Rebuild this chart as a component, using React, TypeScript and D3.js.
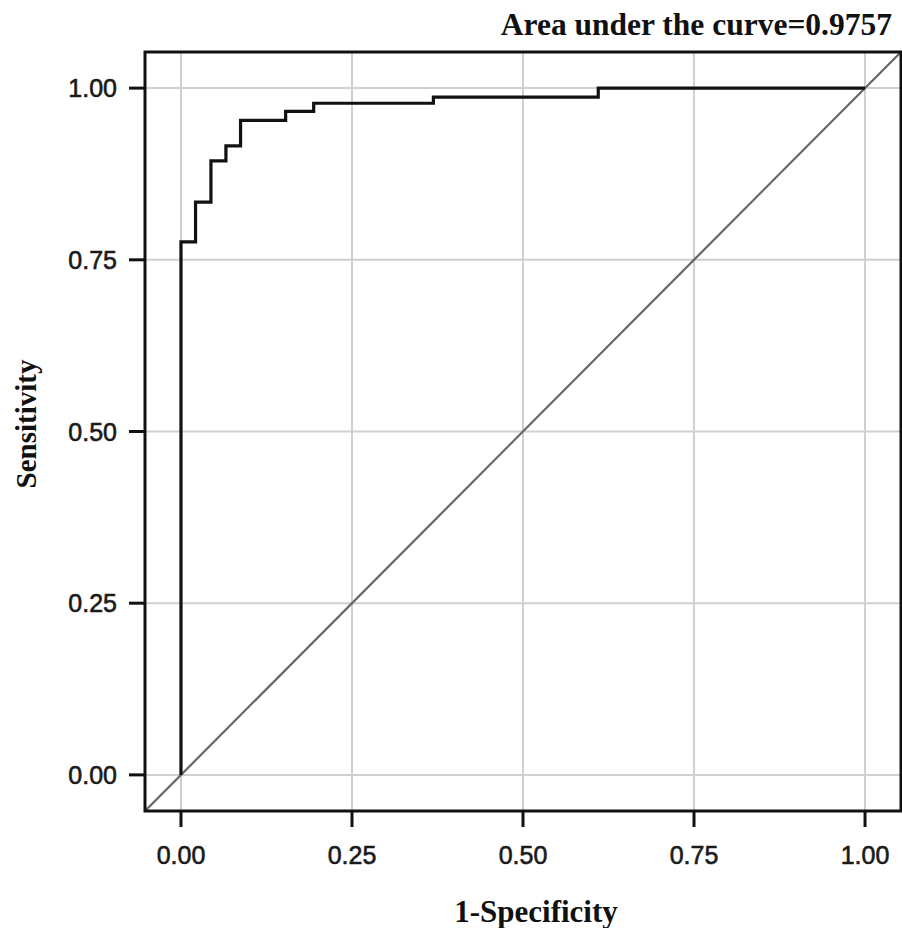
import React from "react";
import * as d3 from "d3";

const fpr = [0, 0, 0.0213, 0.0213, 0.0438, 0.0438, 0.0657, 0.0657, 0.0871, 0.0871, 0.153, 0.153, 0.194, 0.194, 0.369, 0.369, 0.61, 0.61, 1.0];
const tpr = [0, 0.776, 0.776, 0.834, 0.834, 0.894, 0.894, 0.916, 0.916, 0.953, 0.953, 0.966, 0.966, 0.978, 0.978, 0.987, 0.987, 1.0, 1.0];
const ticks = [0, 0.25, 0.5, 0.75, 1];
const tickLabels = ["0.00", "0.25", "0.50", "0.75", "1.00"];
const title = "Area under the curve=0.9757";
const xTitle = "1-Specificity";
const yTitle = "Sensitivity";

export default function App() {
  const W = 902, H = 928;
  const L = 145, R = 901, T = 52, B = 811;
  const pad = 0.0526;
  const x = d3.scaleLinear().domain([-pad, 1 + pad]).range([L, R]);
  const y = d3.scaleLinear().domain([-pad, 1 + pad]).range([B, T]);
  const pts: [number, number][] = fpr.map((f, i) => [f, tpr[i]]);
  const line = d3.line<[number, number]>().x(d => x(d[0])).y(d => y(d[1]));
  const sans = "'Liberation Sans', Arial, sans-serif";
  const serif = "'Liberation Serif', 'Times New Roman', serif";
  return (
    <svg width={W} height={H} style={{ position: "absolute", left: 0, top: 0, background: "#fff" }}>
      <rect x={0} y={0} width={W} height={H} fill="#fff" />
      {ticks.map(t => (
        <line key={"gx" + t} x1={x(t)} x2={x(t)} y1={T} y2={B} stroke="#d0d0d0" strokeWidth={2} />
      ))}
      {ticks.map(t => (
        <line key={"gy" + t} x1={L} x2={R} y1={y(t)} y2={y(t)} stroke="#d0d0d0" strokeWidth={2} />
      ))}
      <line x1={x(-pad)} y1={y(-pad)} x2={x(1 + pad)} y2={y(1 + pad)} stroke="#666" strokeWidth={2.2} />
      <path d={line(pts) || ""} fill="none" stroke="#111" strokeWidth={3.2} />
      <rect x={L} y={T} width={R - L} height={B - T} fill="none" stroke="#111" strokeWidth={3} />
      {ticks.map((t, i) => (
        <g key={"tx" + t}>
          <line x1={x(t)} x2={x(t)} y1={B} y2={B + 16} stroke="#111" strokeWidth={3} />
          <text x={x(t)} y={864} textAnchor="middle" fontFamily={sans} fontSize={25} fill="#1a1a1a" stroke="#1a1a1a" strokeWidth={0.6}>{tickLabels[i]}</text>
        </g>
      ))}
      {ticks.map((t, i) => (
        <g key={"ty" + t}>
          <line x1={L - 16} x2={L} y1={y(t)} y2={y(t)} stroke="#111" strokeWidth={3} />
          <text x={117} y={y(t) + 9} textAnchor="end" fontFamily={sans} fontSize={25} fill="#1a1a1a" stroke="#1a1a1a" strokeWidth={0.6}>{tickLabels[i]}</text>
        </g>
      ))}
      <text x={892} y={35} textAnchor="end" fontFamily={serif} fontWeight="bold" fontSize={31.5} fill="#111">{title}</text>
      <text x={536} y={922} textAnchor="middle" fontFamily={serif} fontWeight="bold" fontSize={31} fill="#111">{xTitle}</text>
      <text transform={`translate(36,424) rotate(-90)`} textAnchor="middle" fontFamily={serif} fontWeight="bold" fontSize={29} fill="#111">{yTitle}</text>
    </svg>
  );
}
